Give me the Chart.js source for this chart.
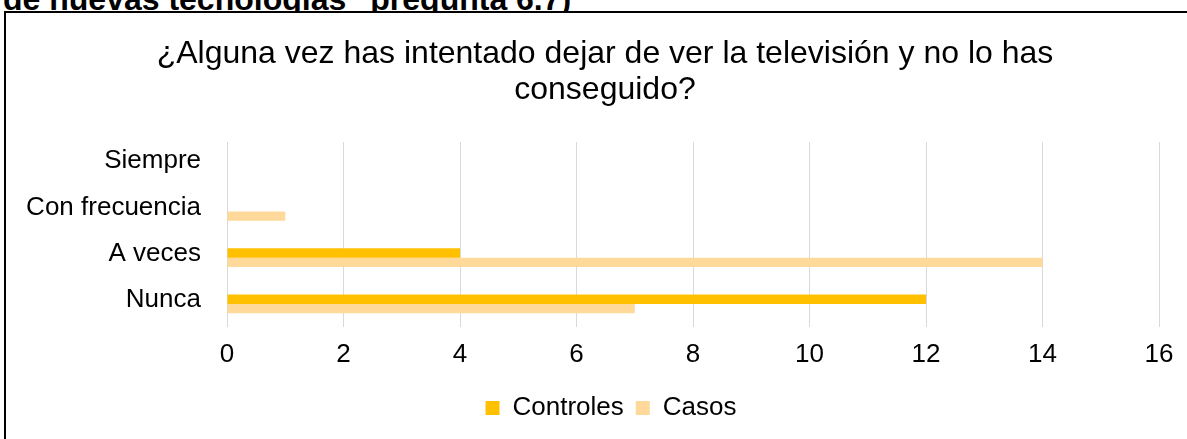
<!DOCTYPE html>
<html>
<head>
<meta charset="utf-8">
<script src="https://cdn.jsdelivr.net/npm/chart.js@4.4.0/dist/chart.umd.min.js"></script>
<style>
  body {
    margin: 0;
    background: #fff;
    overflow: hidden;
    width: 1187px;
    height: 439px;
    position: relative;
    font-family: 'Liberation Sans', Arial, sans-serif;
  }
  /* heading of the page section, partly hidden behind the chart frame */
  #caption {
    position: absolute;
    left: 3px;
    top: -17px;
    font-weight: bold;
    font-size: 32px;
    line-height: 32px;
    white-space: nowrap;
    color: #000;
  }
  #frame {
    position: absolute;
    left: 4px;
    top: 11px;
    width: 1200px;
    height: 440px;
    border-top: 2px solid #000;
    border-left: 2px solid #000;
    background: #fff;
  }
  #frame canvas {
    position: absolute;
    left: 0;
    top: 0;
  }
</style>
</head>
<body>
<div id="caption">de nuevas tecnologías" pregunta 6.7)</div>
<div id="frame">
  <canvas id="tvChart" width="1198" height="426"></canvas>
</div>
<script>
const categories = ['Siempre', 'Con frecuencia', 'A veces', 'Nunca'];
const controles = [0, 0, 4, 12];
const casos = [0, 1, 14, 7];
const xMin = 0;
const xMax = 16;
const xStep = 2;

Chart.defaults.font.family = "'Liberation Sans', Arial, sans-serif";
Chart.defaults.color = '#000';

// title and legend are centred on the whole frame, not on the padded layout box
const fullWidthBlocks = {
  id: 'fullWidthBlocks',
  afterLayout: function (chart) {
    const title = chart.titleBlock;
    title.left = 0;
    title.right = chart.width;
    title.width = chart.width;

    const legend = chart.legend;
    legend.left = 12;
    legend.right = chart.width;
    legend.width = chart.width - 12;
  }
};

const ctx = document.getElementById('tvChart');

const tvChart = new Chart(ctx, {
  type: 'bar',
  data: {
    labels: categories,
    datasets: [
      {
        label: 'Controles',
        data: controles,
        backgroundColor: '#FFC000',
        borderWidth: 0,
      },
      {
        label: 'Casos',
        data: casos,
        backgroundColor: '#FFD999',
        borderWidth: 0,
      }
    ]
  },
  options: {
    indexAxis: 'y',
    responsive: false,
    animation: false,
    barPercentage: 1,
    categoryPercentage: 0.41,
    layout: {
      padding: { left: 0, right: 45, top: 0, bottom: 8 }
    },
    scales: {
      x: {
        min: xMin,
        max: xMax,
        ticks: {
          stepSize: xStep,
          padding: 12,
          font: { size: 26 },
          color: '#000'
        },
        grid: {
          color: '#D9D9D9',
          lineWidth: 1,
          drawTicks: false
        },
        border: { display: false },
        afterFit: function (scale) {
          scale.height = 56;
        }
      },
      y: {
        ticks: {
          padding: 26,
          labelOffset: -4,
          font: { size: 26 },
          color: '#000'
        },
        grid: { display: false, drawTicks: false },
        border: { display: false },
        afterFit: function (scale) {
          scale.width = 221;
        }
      }
    },
    plugins: {
      title: {
        display: true,
        text: ['¿Alguna vez has intentado dejar de ver la televisión y no lo has', 'conseguido?'],
        color: '#000',
        font: { size: 32, weight: 'normal', lineHeight: 36 / 32 },
        padding: { top: 23, bottom: 34 }
      },
      legend: {
        position: 'bottom',
        labels: {
          boxWidth: 14,
          boxHeight: 14,
          padding: 12,
          color: '#000',
          font: { size: 26 }
        }
      },
      tooltip: { enabled: false }
    }
  },
  plugins: [fullWidthBlocks]
});
</script>
</body>
</html>
